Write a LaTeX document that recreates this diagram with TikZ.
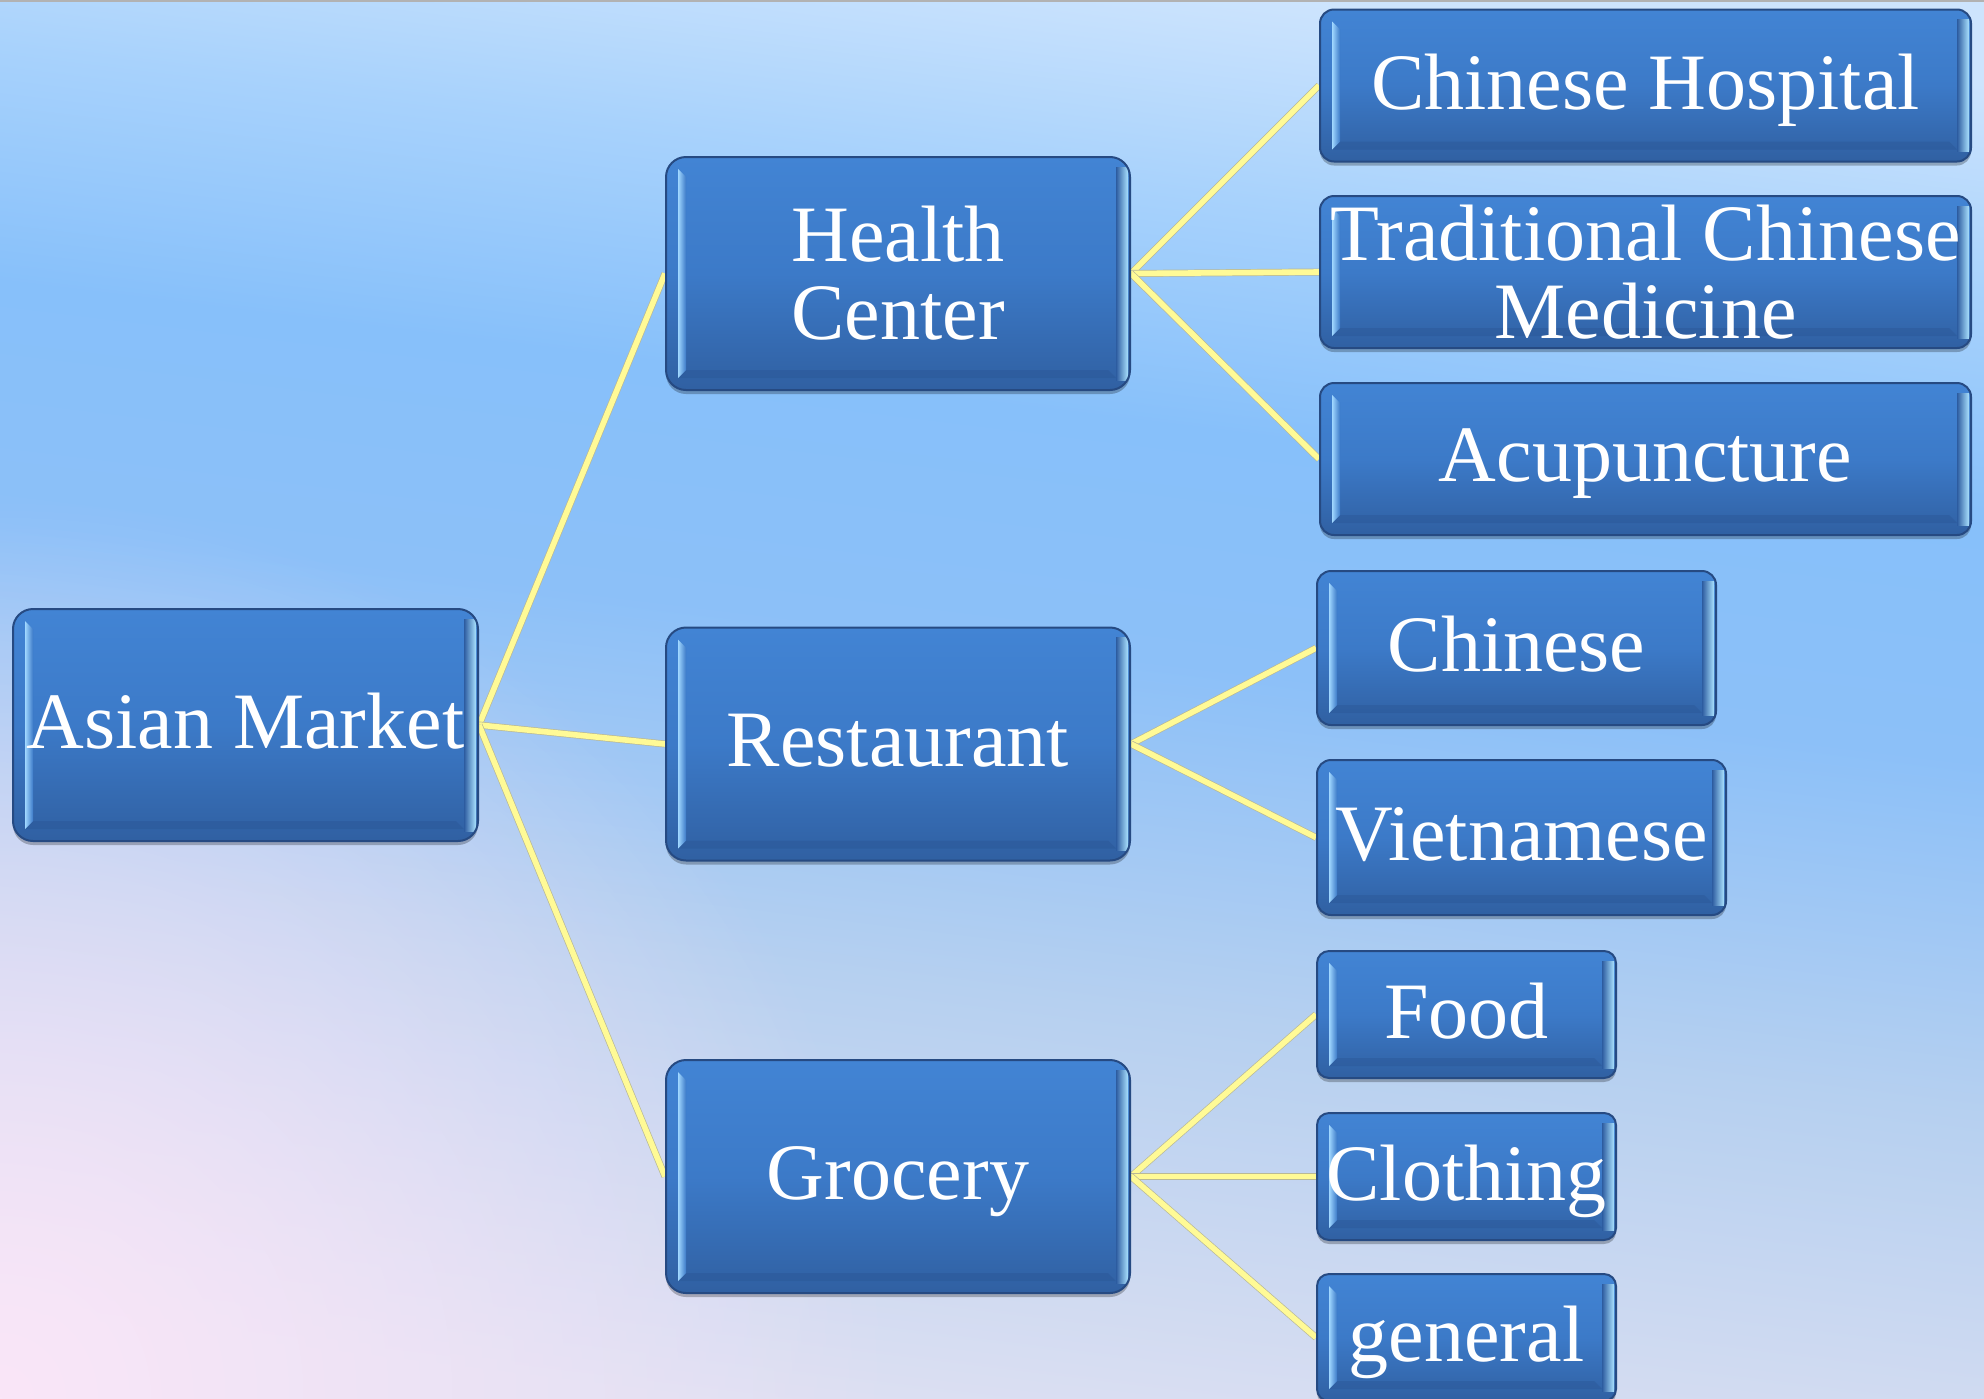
\documentclass[tikz,border=0pt]{standalone}
\usepackage{fontspec}
\setmainfont{Liberation Serif}
\usetikzlibrary{calc,shadows,fadings}
\definecolor{bgA}{RGB}{205,228,253}
\definecolor{bgAA}{RGB}{168,210,252}
\definecolor{bgB}{RGB}{135,192,250}
\definecolor{bgC}{RGB}{140,192,248}
\definecolor{bgD}{RGB}{182,208,240}
\definecolor{bgE}{RGB}{222,224,242}
\definecolor{pinkc}{RGB}{250,230,248}
\definecolor{faceT}{RGB}{66,132,212}
\definecolor{faceM}{RGB}{60,122,200}
\definecolor{faceB}{RGB}{48,96,162}
\definecolor{boxline}{RGB}{38,74,130}
\definecolor{hlL}{RGB}{160,215,255}
\definecolor{hlR}{RGB}{170,226,255}
\definecolor{faceR}{RGB}{45,92,160}
\definecolor{faceD}{RGB}{40,82,145}
\definecolor{linkyellow}{RGB}{255,250,150}
\definecolor{linkedge}{RGB}{185,185,150}
\pgfdeclareverticalshading{bgshade}{100bp}{color(0bp)=(bgE); color(25bp)=(bgE); color(40bp)=(bgD); color(52bp)=(bgC); color(60bp)=(bgB); color(68bp)=(bgAA); color(75bp)=(bgA); color(100bp)=(bgA)}
\tikzfading[name=pinkfade, inner color=transparent!0, outer color=transparent!100]
\pgfdeclarelayer{bglayer}
\pgfdeclarelayer{lineslayer}
\pgfsetlayers{bglayer,lineslayer,main}
\tikzset{
  box/.style={
    rounded corners=#1,
    draw=boxline, line width=1pt,
    top color=faceT, bottom color=faceB, middle color=faceM,
    text=white, font=\fontsize{40pt}{39pt}\selectfont, align=center, inner sep=0pt,
    drop shadow={shadow xshift=0pt, shadow yshift=-2pt, opacity=0.25, fill=black},
    path picture={
      \begin{scope}[sharp corners]
      \coordinate (pnw) at (path picture bounding box.north west);
      \coordinate (pne) at (path picture bounding box.north east);
      \coordinate (psw) at (path picture bounding box.south west);
      \coordinate (pse) at (path picture bounding box.south east);
      \fill[faceD, opacity=0.35] ($(psw)+(6pt,6pt)$) -- ($(pse)+(-7pt,6pt)$) -- ($(pse)+(-11pt,10pt)$) -- ($(psw)+(10pt,10pt)$) -- cycle;
      \shade[left color=hlL, right color=faceM] ($(pnw)+(6pt,-6pt)$) -- ($(pnw)+(10pt,-10pt)$) -- ($(psw)+(10pt,10pt)$) -- ($(psw)+(6pt,6pt)$) -- cycle;
      \shade[left color=faceR, right color=hlR] ($(pne)+(-7pt,-5pt)$) rectangle ($(pse)+(-1pt,5pt)$);
      \end{scope}
    }
  },
  box/.default=7pt,
  sl/.style={text depth=4pt},
  link/.style={draw=linkedge, line width=0.35pt, double=linkyellow, double distance=2.8pt}
}
\begin{document}
\begin{tikzpicture}[x=0.5pt, y=-0.5pt]
\useasboundingbox (0,0) rectangle (1984,1398);
\begin{pgfonlayer}{bglayer}
\shade[shading=bgshade, shading angle=-7] (0,0) rectangle (1984,1398);
\fill[pinkc, path fading=pinkfade] (0,1398) circle (900);
\fill[black!30] (0,0) rectangle (1984,2);
\end{pgfonlayer}

\node[box=10pt, sl, minimum width=232.5pt, minimum height=116pt] (am) at (245.5,725) {Asian Market};
\node[box=10pt, minimum width=232pt, minimum height=116.5pt] (hc) at (898,273.5) {Health\\Center};
\node[box=10pt, sl, minimum width=232pt, minimum height=116.5pt] (rs) at (898,744) {Restaurant};
\node[box=10pt, sl, minimum width=232pt, minimum height=116.5pt] (gr) at (898,1176.5) {Grocery};

\node[box=7pt, sl, minimum width=325.5pt, minimum height=76pt] (ch) at (1645.5,85.5) {Chinese Hospital};
\node[box=7pt, minimum width=325.5pt, minimum height=76pt] (tcm) at (1645.5,272) {Traditional Chinese\\Medicine};
\node[box=7pt, sl, minimum width=325.5pt, minimum height=76pt] (ac) at (1645.5,459) {Acupuncture};

\node[box=7pt, sl, minimum width=199.5pt, minimum height=77pt] (chn) at (1516.5,648) {Chinese};
\node[box=7pt, sl, minimum width=204.5pt, minimum height=77.5pt] (vn) at (1521.5,837.5) {Vietnamese};

\node[box=6pt, sl, minimum width=149.5pt, minimum height=63.5pt] (fd) at (1466.5,1014.5) {Food};
\node[box=6pt, sl, minimum width=149.5pt, minimum height=63.5pt] (cl) at (1466.5,1176.5) {Clothing};
\node[box=6pt, sl, minimum width=149.5pt, minimum height=63.5pt] (gn) at (1466.5,1337.5) {general};

\begin{pgfonlayer}{lineslayer}
\draw[link] (am.east) -- (hc.west);
\draw[link] (am.east) -- (rs.west);
\draw[link] (am.east) -- (gr.west);
\draw[link] (hc.east) -- (ch.west);
\draw[link] (hc.east) -- (tcm.west);
\draw[link] (hc.east) -- (ac.west);
\draw[link] (rs.east) -- (chn.west);
\draw[link] (rs.east) -- (vn.west);
\draw[link] (gr.east) -- (fd.west);
\draw[link] (gr.east) -- (cl.west);
\draw[link] (gr.east) -- (gn.west);
\end{pgfonlayer}
\end{tikzpicture}
\end{document}
